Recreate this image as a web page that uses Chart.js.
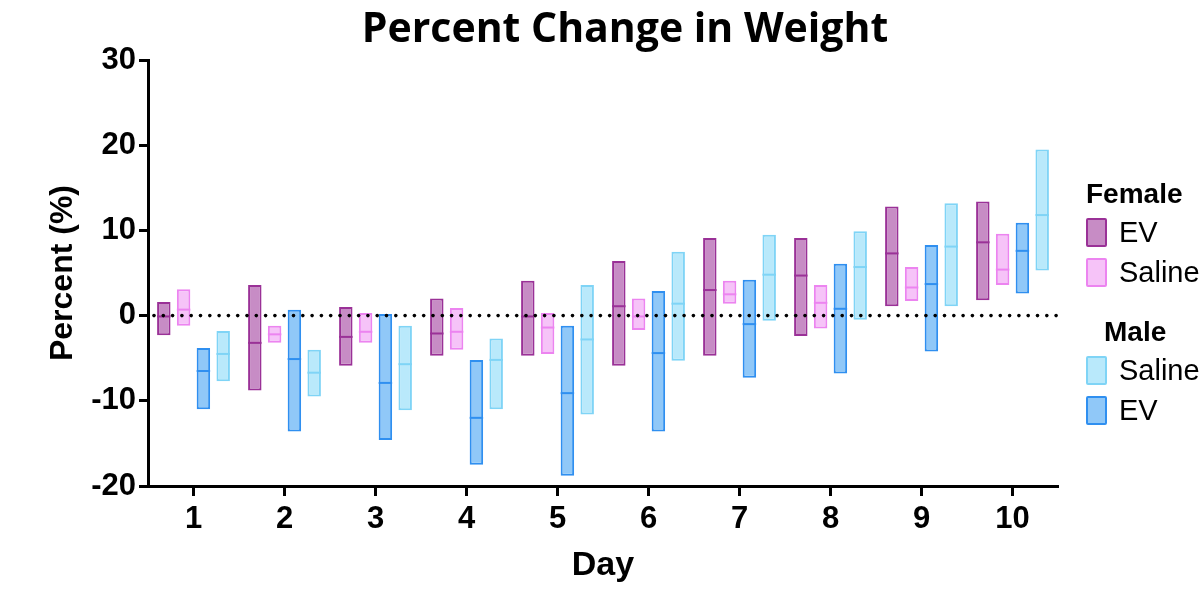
<!DOCTYPE html>
<html>
<head>
<meta charset="utf-8">
<script src="https://cdn.jsdelivr.net/npm/chart.js@4.4.1/dist/chart.umd.min.js"></script>
<style>
    body { margin: 0; background: #fff; }
    #wrap { position: relative; width: 1202px; height: 592px; overflow: hidden; }
    #chart { position: absolute; left: 0; top: 0; }
    #title {
        position: absolute; left: 0; top: -2px; width: 1250px; text-align: center;
        font: bold 41px "Open Sans", sans-serif; color: #000;
    }
    #legend { position: absolute; left: 1086px; top: 176px; font-family: "Liberation Sans", Arial, sans-serif; color: #000; }
    #legend .head { font-weight: bold; font-size: 28px; height: 36px; line-height: 36px; }
    #legend .item { height: 40px; display: flex; align-items: center; font-size: 29px; }
    #legend .sw { width: 17px; height: 25px; border: 2px solid; border-radius: 2px; margin-right: 12px; }
</style>
</head>
<body>
<div id="wrap">
    <canvas id="chart" width="1202" height="592"></canvas>
    <div id="title">Percent Change in Weight</div>
    <div id="legend"></div>
</div>
<script>
(function () {
    "use strict";

    // Data
    const days = ["1", "2", "3", "4", "5", "6", "7", "8", "9", "10"];

    const femaleEvMin = [-2.3, -8.8, -5.9, -4.7, -4.7, -5.9, -4.7, -2.4, 1.1, 1.8];
    const femaleEvMax = [1.6, 3.6, 1.0, 2.0, 4.1, 6.4, 9.1, 9.1, 12.8, 13.4];
    const femaleEvMean = [-0.1, -3.2, -2.5, -2.1, -0.1, 1.1, 3.0, 4.7, 7.3, 8.6];

    const femaleSalMin = [-1.2, -3.2, -3.2, -4.0, -4.5, -1.7, 1.4, -1.5, 1.7, 3.6];
    const femaleSalMax = [3.1, -1.2, 0.3, 0.9, 0.3, 2.0, 4.1, 3.6, 5.7, 9.6];
    const femaleSalMean = [0.7, -2.2, -1.9, -1.9, -1.4, -0.1, 2.5, 1.5, 3.3, 5.4];

    const maleEvMin = [-11.0, -13.6, -14.6, -17.5, -18.8, -13.6, -7.3, -6.8, -4.2, 2.6];
    const maleEvMax = [-3.8, 0.7, 0.2, -5.2, -1.2, 2.9, 4.2, 6.1, 8.3, 10.9];
    const maleEvMean = [-6.5, -5.1, -7.9, -12.0, -9.1, -4.4, -1.0, 0.8, 3.7, 7.6];

    const maleSalMin = [-7.7, -9.5, -11.1, -11.0, -11.6, -5.3, -0.6, -0.5, 1.1, 5.3];
    const maleSalMax = [-1.8, -4.0, -1.2, -2.7, 3.6, 7.5, 9.5, 9.9, 13.2, 19.5];
    const maleSalMean = [-4.5, -6.7, -5.7, -5.2, -2.8, 1.4, 4.8, 5.7, 8.1, 11.8];

    const yTicks = [-20, -10, 0, 10, 20, 30];

    // Colors
    const purple_fill = "#c78cc5";
    const purple_line = "#9a3197";
    const pink_fill = "#f6c3f8";
    const pink_line = "#ec84f0";
    const blue_fill = "#90c8f8";
    const blue_line = "#2f8ff0";
    const cyan_fill = "#b9e9fb";
    const cyan_line = "#7fd4f6";

    const font_family = "'Liberation Sans', Arial, sans-serif";

    function ranges(lo, hi) {
        return lo.map(function (v, i) { return [v, hi[i]]; });
    }

    function series(label, lo, hi, mean, fill, line) {
        return {
            label: label,
            data: ranges(lo, hi),
            means: mean,
            backgroundColor: fill,
            borderColor: line,
            borderWidth: 2,
            borderSkipped: false,
            categoryPercentage: 0.87,
            barPercentage: 0.68,
        };
    }

    // mean line inside every bar + dotted line at zero
    const marksPlugin = {
        id: "marks",
        afterDatasetsDraw: function (chart) {
            const ctx = chart.ctx;
            const y = chart.scales.y;
            chart.data.datasets.forEach(function (ds, i) {
                const meta = chart.getDatasetMeta(i);
                meta.data.forEach(function (bar, j) {
                    const py = y.getPixelForValue(ds.means[j]);
                    ctx.save();
                    ctx.strokeStyle = ds.borderColor;
                    ctx.lineWidth = 2;
                    ctx.beginPath();
                    ctx.moveTo(bar.x - bar.width / 2, py);
                    ctx.lineTo(bar.x + bar.width / 2, py);
                    ctx.stroke();
                    ctx.restore();
                });
            });
            const area = chart.chartArea;
            const p0 = y.getPixelForValue(0);
            ctx.save();
            ctx.fillStyle = "#000";
            for (let x = area.left + 6; x < area.right; x += 9.3) {
                ctx.beginPath();
                ctx.arc(x, p0, 1.8, 0, Math.PI * 2);
                ctx.fill();
            }
            ctx.restore();
        },
    };

    const ctc = document.getElementById("chart").getContext("2d");
    const WeightChart = new Chart(ctc, {
        type: "bar",
        data: {
            labels: days,
            datasets: [
                series("Female EV", femaleEvMin, femaleEvMax, femaleEvMean, purple_fill, purple_line),
                series("Female Saline", femaleSalMin, femaleSalMax, femaleSalMean, pink_fill, pink_line),
                series("Male EV", maleEvMin, maleEvMax, maleEvMean, blue_fill, blue_line),
                series("Male Saline", maleSalMin, maleSalMax, maleSalMean, cyan_fill, cyan_line),
            ],
        },
        plugins: [marksPlugin],
        options: {
            responsive: false,
            animation: false,
            layout: {
                padding: { left: 0, right: 144, top: 60, bottom: 0 },
            },
            plugins: {
                legend: { display: false },
                tooltip: { enabled: false },
            },
            scales: {
                x: {
                    afterFit: function (scale) { scale.height = 106; },
                    grid: {
                        display: true,
                        offset: false,
                        drawOnChartArea: false,
                        drawTicks: true,
                        tickLength: 10,
                        tickWidth: 3,
                        tickColor: "#000",
                    },
                    border: { display: true, color: "#000", width: 3 },
                    ticks: {
                        color: "#000",
                        padding: 5,
                        font: { family: font_family, weight: "bold", size: 31 },
                    },
                    title: {
                        display: true,
                        text: "Day",
                        color: "#000",
                        font: { family: font_family, weight: "bold", size: 34 },
                        padding: { top: 4, bottom: 6 },
                    },
                },
                y: {
                    min: -20,
                    max: 30,
                    afterFit: function (scale) { scale.width = 148; },
                    afterBuildTicks: function (scale) {
                        scale.ticks = yTicks.map(function (v) { return { value: v }; });
                    },
                    grid: {
                        display: true,
                        drawOnChartArea: false,
                        drawTicks: true,
                        tickLength: 9,
                        tickWidth: 3,
                        tickColor: "#000",
                    },
                    border: { display: true, color: "#000", width: 3 },
                    ticks: {
                        color: "#000",
                        padding: 3,
                        font: { family: font_family, weight: "bold", size: 31 },
                    },
                    title: {
                        display: true,
                        text: "Percent (%)",
                        color: "#000",
                        font: { family: font_family, weight: "bold", size: 32 },
                        padding: { top: 44, bottom: 0 },
                    },
                },
            },
        },
    });

    // Grouped legend (Female / Male)
    const legendGroups = [
        { head: "Female", indent: 0, items: [["EV", purple_fill, purple_line], ["Saline", pink_fill, pink_line]] },
        { head: "Male", indent: 18, items: [["Saline", cyan_fill, cyan_line], ["EV", blue_fill, blue_line]] },
    ];
    const legend = document.getElementById("legend");
    legendGroups.forEach(function (g, gi) {
        const h = document.createElement("div");
        h.className = "head";
        h.textContent = g.head;
        h.style.paddingLeft = g.indent + "px";
        if (gi > 0) h.style.marginTop = "22px";
        legend.appendChild(h);
        g.items.forEach(function (it) {
            const row = document.createElement("div");
            row.className = "item";
            const sw = document.createElement("span");
            sw.className = "sw";
            sw.style.background = it[1];
            sw.style.borderColor = it[2];
            row.appendChild(sw);
            row.appendChild(document.createTextNode(it[0]));
            legend.appendChild(row);
        });
    });
})();
</script>
</body>
</html>
